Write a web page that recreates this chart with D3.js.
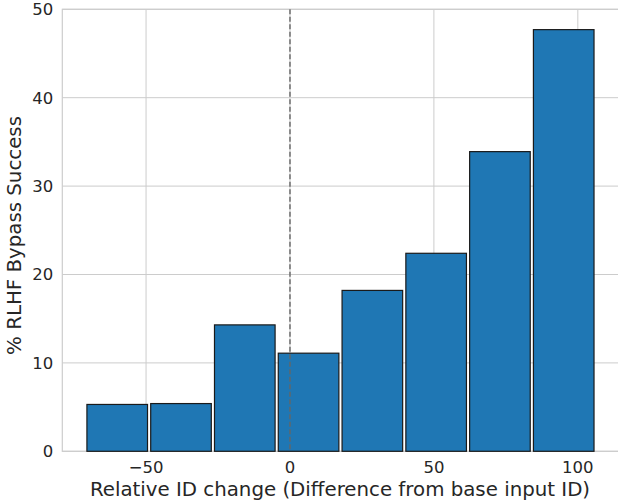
<!DOCTYPE html>
<html>
<head>
<meta charset="utf-8">
<script src="https://cdn.jsdelivr.net/npm/d3@7"></script>
<style>
  body { margin: 0; background: #fff; }
  svg text { font-family: "DejaVu Sans", sans-serif; fill: #262626; }
</style>
</head>
<body>
<div id="chart"></div>
<script>
// Histogram bins (left edge of each bin) and bar heights (% success)
var binStart = -71.1;
var binWidth = 22.16;
var successPct = [5.3, 5.4, 14.3, 11.1, 18.2, 22.4, 33.9, 47.7];
var xTicks = [-50, 0, 50, 100];
var yTicks = [0, 10, 20, 30, 40, 50];

var width = 618, height = 503;
var margin = {top: 9.3, right: -3, bottom: 51.7, left: 62.3};
var innerW = width - margin.left - margin.right,
    innerH = height - margin.top - margin.bottom;

var svg = d3.select("#chart").append("svg")
    .attr("width", width)
    .attr("height", height);

var g = svg.append("g")
    .attr("transform", "translate(" + margin.left + "," + margin.top + ")");

var x = d3.scaleLinear().domain([-79.1, 115]).range([0, innerW]);
var y = d3.scaleLinear().domain([0, 50]).range([innerH, 0]);

// grid
g.selectAll(".xgrid").data(xTicks).enter().append("line")
    .attr("x1", function(d) { return x(d); })
    .attr("x2", function(d) { return x(d); })
    .attr("y1", 0).attr("y2", innerH)
    .style("stroke", "#cccccc").style("stroke-width", 1);
g.selectAll(".ygrid").data(yTicks).enter().append("line")
    .attr("x1", 0).attr("x2", innerW)
    .attr("y1", function(d) { return y(d); })
    .attr("y2", function(d) { return y(d); })
    .style("stroke", "#cccccc").style("stroke-width", 1);

// frame
g.append("rect")
    .attr("width", innerW).attr("height", innerH)
    .style("fill", "none").style("stroke", "#cccccc").style("stroke-width", 1.2);

// bars
var rwidth = 0.95;
g.selectAll(".bar").data(successPct).enter().append("rect")
    .attr("x", function(d, i) { return x(binStart + binWidth * (i + (1 - rwidth) / 2)); })
    .attr("width", function(d, i) { return x(binStart + binWidth * rwidth) - x(binStart); })
    .attr("y", function(d) { return y(d); })
    .attr("height", function(d) { return y(0) - y(d); })
    .style("fill", "#1f77b4")
    .style("stroke", "#1a1a1a")
    .style("stroke-width", 1.2);

// zero reference line
g.append("line")
    .attr("x1", x(0)).attr("x2", x(0))
    .attr("y1", 0).attr("y2", innerH)
    .style("stroke", "#666666")
    .style("stroke-width", 1.4)
    .style("stroke-dasharray", "5,2.5");

// tick labels
g.selectAll(".xtick").data(xTicks).enter().append("text")
    .attr("x", function(d) { return x(d); })
    .attr("y", innerH + 21.5)
    .attr("text-anchor", "middle")
    .style("font-size", "16.5px")
    .text(function(d) { return d < 0 ? "\u2212" + Math.abs(d) : d; });

g.selectAll(".ytick").data(yTicks).enter().append("text")
    .attr("x", -9)
    .attr("y", function(d) { return y(d); })
    .attr("dy", "0.36em")
    .attr("text-anchor", "end")
    .style("font-size", "16.5px")
    .text(function(d) { return d; });

// axis titles
svg.append("text")
    .attr("x", 340)
    .attr("y", 496)
    .attr("text-anchor", "middle")
    .style("font-size", "19.8px")
    .text("Relative ID change (Difference from base input ID)");

svg.append("text")
    .attr("transform", "translate(21," + 235.5 + ") rotate(-90)")
    .attr("text-anchor", "middle")
    .style("font-size", "19.8px")
    .text("% RLHF Bypass Success");
</script>
</body>
</html>
